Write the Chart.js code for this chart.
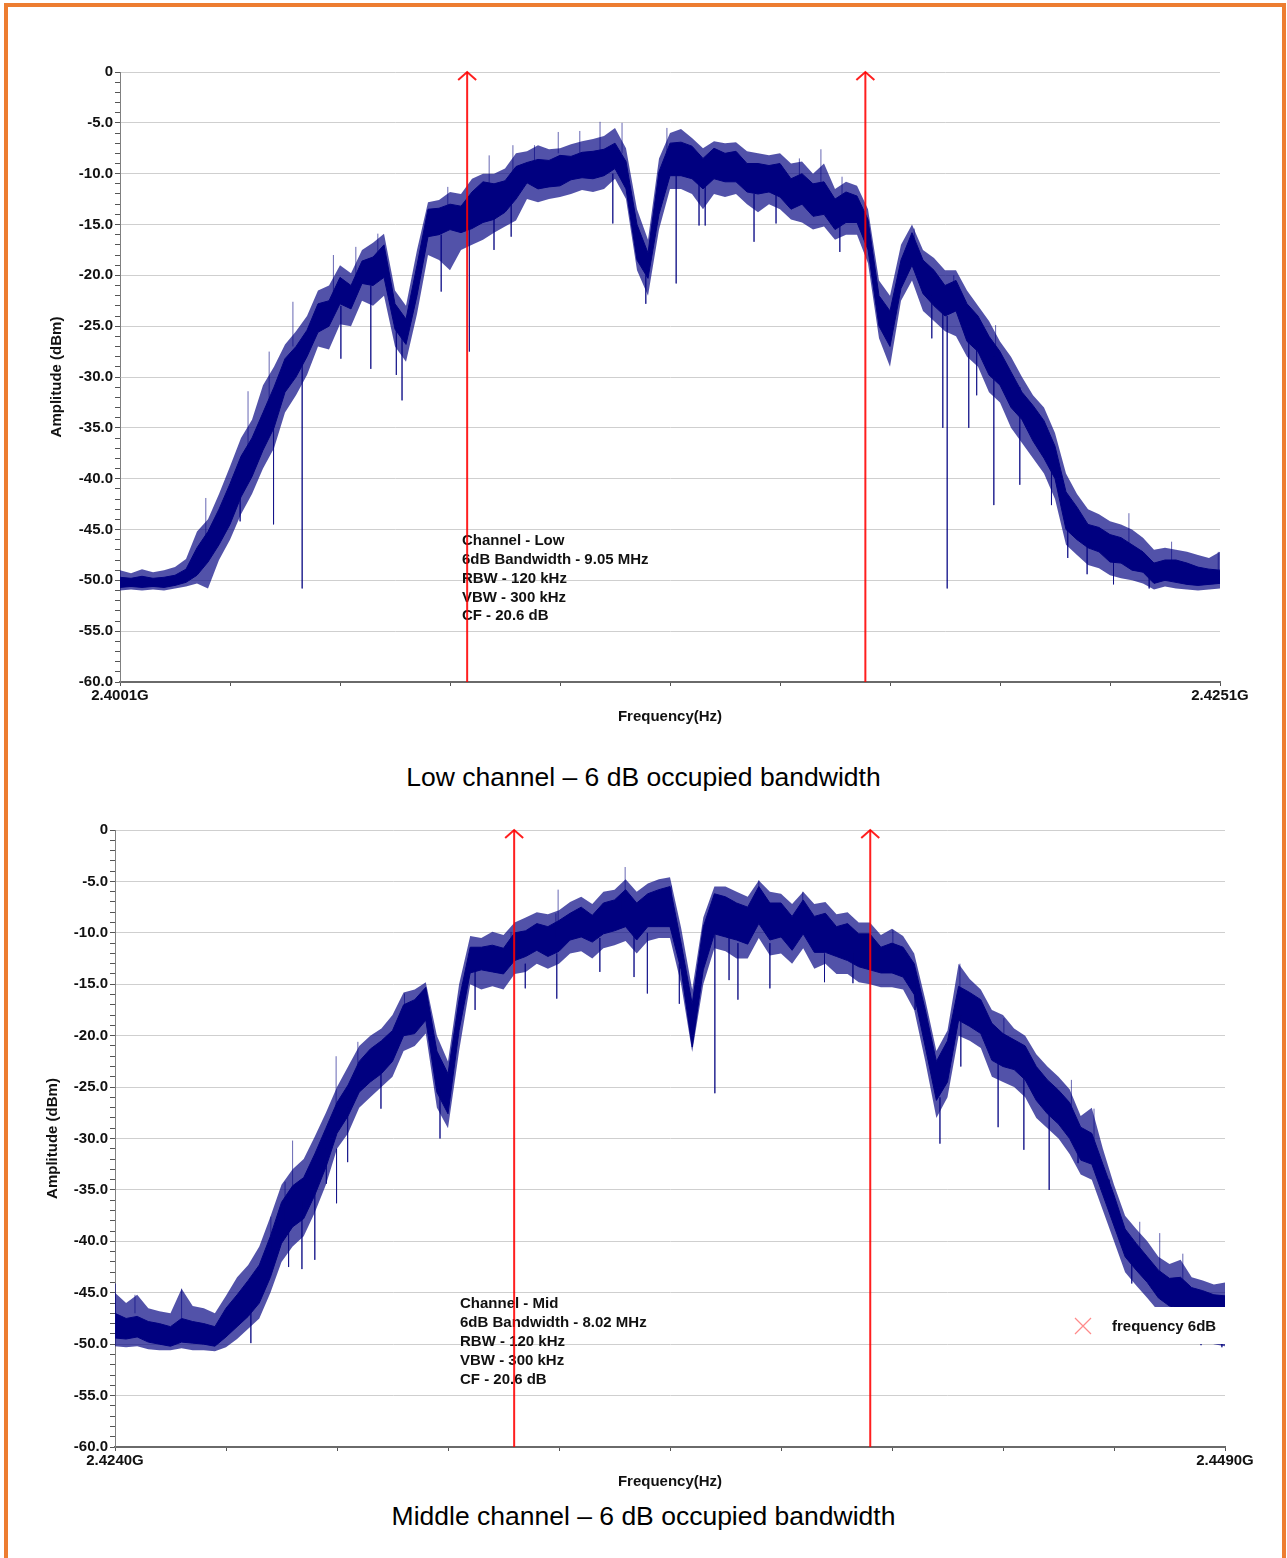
<!DOCTYPE html>
<html>
<head>
<meta charset="utf-8">
<title>6 dB occupied bandwidth</title>
<script src="https://cdn.jsdelivr.net/npm/chart.js@4.4.1/dist/chart.umd.min.js"></script>
<style>
  html, body { margin: 0; padding: 0; background: #fff; }
  body { width: 1287px; height: 1558px; position: relative; overflow: hidden; font-family: "Liberation Sans", Arial, sans-serif; }
  .frame { position: absolute; left: 4px; top: 3px; width: 1274px; height: 1600px; border: 4px solid #ed7d31; border-bottom: none; }
  canvas { position: absolute; left: 0; }
  #chart1 { top: 0; }
  #chart2 { top: 760px; }
  .caption { position: absolute; left: 0; width: 1287px; text-align: center; font-size: 26.5px; line-height: 30px; color: #000; }
</style>
</head>
<body>
<div class="frame"></div>
<canvas id="chart1" width="1287" height="740"></canvas>
<div class="caption" style="top:762px">Low channel – 6 dB occupied bandwidth</div>
<canvas id="chart2" width="1287" height="740"></canvas>
<div class="caption" style="top:1501px">Middle channel – 6 dB occupied bandwidth</div>
<script>
const BIN = 0.25; // MHz between trace bins

// ---- low channel, 2.4001 - 2.4251 GHz ----
const lowStart = 2400.1, lowEnd = 2425.1;
// solid part of the trace (upper / lower edge), dBm per bin
const lowTop = [-49.7,-49.8,-49.6,-49.8,-49.7,-49.5,-48.9,-46.8,-45.2,-43.0,
  -40.5,-37.8,-36.0,-33.5,-31.0,-28.2,-27.0,-25.4,-22.8,-22.5,
  -20.2,-21.0,-18.6,-18.2,-17.0,-22.8,-24.3,-19.0,-13.5,-13.4,
  -13.0,-13.2,-11.8,-10.8,-11.0,-10.7,-9.3,-8.9,-8.6,-8.7,
  -8.2,-8.3,-7.9,-7.8,-7.6,-7.0,-8.8,-15.0,-17.8,-9.8,
  -7.0,-6.9,-7.3,-8.5,-7.5,-8.0,-7.8,-9.0,-9.0,-9.2,
  -9.0,-10.5,-10.0,-11.0,-10.8,-12.5,-11.8,-12.2,-14.5,-22.0,
  -23.5,-18.5,-15.8,-18.5,-19.5,-21.0,-20.5,-22.8,-24.0,-26.0,
  -27.5,-29.5,-31.5,-32.8,-34.3,-36.8,-41.3,-42.8,-44.5,-44.8,
  -45.5,-45.8,-46.5,-47.2,-48.3,-48.0,-48.0,-48.3,-48.7,-48.9,
  -49.0];
const lowBottom = [-50.7,-50.6,-50.7,-50.6,-50.7,-50.5,-50.2,-49.5,-48.2,-46.5,
  -44.5,-41.8,-39.8,-37.2,-35.0,-31.5,-30.0,-28.0,-25.6,-25.0,
  -22.8,-23.3,-20.8,-21.0,-20.2,-25.3,-26.8,-22.0,-16.2,-16.0,
  -15.5,-15.8,-15.4,-14.8,-14.5,-13.8,-12.5,-10.9,-11.5,-11.3,
  -11.2,-10.6,-10.4,-10.5,-10.2,-9.5,-11.5,-18.5,-20.3,-14.0,
  -10.2,-10.2,-10.5,-11.5,-10.5,-10.8,-10.8,-11.8,-12.0,-11.8,
  -12.3,-13.5,-13.0,-14.2,-14.0,-15.5,-14.8,-14.8,-17.5,-25.0,
  -27.0,-21.3,-19.0,-21.8,-23.0,-24.0,-23.5,-26.5,-27.5,-29.8,
  -30.8,-33.0,-34.2,-36.3,-38.0,-40.0,-45.0,-46.0,-46.8,-47.2,
  -48.2,-48.3,-49.0,-49.2,-50.3,-50.0,-50.2,-50.4,-50.5,-50.4,
  -50.3];
// noise extremes per bin
const lowPeak = [-49.0,-49.3,-48.9,-49.2,-49.0,-48.7,-47.9,-45.2,-44.0,-41.5,
  -38.8,-36.0,-34.2,-30.8,-29.0,-26.8,-25.5,-24.0,-21.5,-21.0,
  -19.0,-19.8,-17.5,-16.8,-15.9,-21.5,-23.0,-17.5,-12.8,-12.6,
  -11.8,-12.0,-10.5,-10.0,-10.0,-9.5,-8.0,-7.8,-7.2,-7.6,
  -7.5,-7.1,-6.8,-6.6,-6.3,-5.5,-7.5,-13.5,-16.5,-8.5,
  -6.0,-5.6,-6.5,-7.5,-6.8,-7.0,-6.9,-7.8,-8.0,-8.2,
  -8.0,-9.0,-8.8,-10.0,-9.0,-11.5,-10.8,-11.2,-13.5,-20.5,
  -22.0,-17.0,-15.0,-17.5,-18.3,-19.5,-19.5,-21.5,-23.0,-24.5,
  -26.5,-28.0,-30.0,-31.8,-33.0,-35.5,-39.5,-41.5,-43.0,-43.5,
  -44.2,-44.5,-45.0,-45.8,-47.0,-46.8,-47.0,-47.2,-47.5,-47.8,
  -47.2];
const lowDip = [-51.0,-50.9,-51.0,-50.9,-51.0,-50.8,-50.6,-50.3,-50.8,-48.0,
  -46.0,-43.5,-41.5,-39.0,-37.0,-33.5,-31.8,-29.8,-27.0,-27.3,
  -24.8,-25.0,-22.5,-23.0,-22.0,-27.0,-28.5,-23.8,-18.0,-18.5,
  -19.5,-17.5,-17.0,-16.5,-15.8,-15.2,-14.6,-12.5,-12.8,-12.5,
  -12.3,-12.0,-11.6,-11.8,-11.5,-10.5,-12.5,-19.5,-22.0,-15.5,
  -11.5,-11.5,-12.0,-13.5,-12.0,-12.3,-12.0,-13.0,-13.8,-13.0,
  -13.5,-14.5,-14.8,-15.5,-15.2,-16.5,-16.0,-16.0,-18.8,-26.2,
  -29.0,-22.5,-20.5,-23.5,-24.5,-25.5,-26.0,-28.0,-29.0,-31.5,
  -32.5,-35.0,-36.5,-38.0,-39.5,-42.0,-46.5,-47.5,-48.5,-48.8,
  -49.5,-49.8,-50.0,-50.3,-50.9,-50.6,-50.8,-50.9,-51.0,-50.9,
  -50.8];
// single spurs: [MHz, from dBm, to dBm]
const lowSpikes = [[2402.05,-46,-41.9],[2402.83,-40,-44.2],[2403.01,-38,-31.4],
  [2403.49,-33,-27.5],[2403.59,-35,-44.5],[2404.03,-27,-22.6],[2404.24,-28,-50.8],
  [2404.95,-22,-18.0],[2405.12,-23,-28.2],[2405.46,-20,-17.2],[2405.80,-21,-29.2],
  [2405.96,-18,-15.9],[2406.38,-25,-29.8],[2406.51,-26,-32.3],[2407.40,-16,-21.6],
  [2407.55,-14,-11.3],[2408.04,-15,-27.5],[2408.49,-11,-8.2],[2408.60,-14,-17.5],
  [2408.99,-12,-16.2],[2409.03,-10,-7.2],[2409.52,-10,-7.2],[2410.06,-8,-5.9],
  [2410.55,-8,-5.8],[2411.01,-8,-4.9],[2411.30,-10,-14.9],[2411.51,-8,-5.0],
  [2412.05,-20,-22.8],[2412.53,-8,-5.5],[2412.74,-10,-20.8],[2413.26,-11,-15.1],
  [2413.40,-11,-15.1],[2414.51,-12,-16.7],[2415.01,-12,-14.9],[2415.54,-11,-8.5],
  [2416.03,-11,-7.6],[2416.46,-14,-17.7],[2416.51,-12.5,-10.3],[2418.15,-17,-15.4],
  [2418.55,-22,-26.2],[2418.80,-23,-35.0],[2418.90,-24,-50.8],[2419.05,-22,-20.0],
  [2419.39,-25,-35.0],[2419.57,-26,-31.8],[2419.96,-28,-42.6],[2420.00,-27,-24.9],
  [2420.55,-31,-40.6],[2421.27,-37,-42.6],[2421.64,-44,-47.8],[2422.08,-46,-49.4],
  [2422.68,-48,-50.4],[2423.03,-47,-43.4],[2423.49,-49,-50.8],[2424.00,-48,-46.2],
  [2425.06,-49,-47.2]];
const lowMarkerStart = 2407.99;
const lowBandwidth = 9.05;

// ---- middle channel, 2.4240 - 2.4490 GHz ----
const midStart = 2424.0, midEnd = 2449.0;
const midTop = [-47.0,-47.5,-47.3,-47.8,-48.0,-48.3,-47.5,-47.8,-48.0,-48.3,
  -46.5,-45.2,-43.8,-42.3,-39.5,-36.2,-34.6,-33.8,-31.5,-29.0,
  -26.5,-24.8,-22.5,-21.3,-20.5,-19.5,-17.0,-16.5,-15.3,-21.5,
  -23.7,-16.5,-11.4,-11.4,-11.2,-11.5,-10.0,-9.8,-9.1,-9.4,
  -8.8,-8.1,-7.5,-8.3,-7.1,-6.8,-5.8,-7.1,-6.2,-5.8,
  -5.5,-11.0,-16.9,-9.4,-6.2,-6.5,-7.1,-7.5,-5.5,-7.1,
  -7.1,-8.4,-6.8,-8.4,-8.1,-9.4,-9.1,-10.1,-10.1,-11.4,
  -11.0,-11.4,-13.0,-17.5,-22.5,-20.5,-15.2,-15.8,-16.5,-18.8,
  -19.8,-20.4,-21.0,-23.0,-24.3,-25.3,-26.5,-28.9,-29.5,-32.5,
  -35.5,-38.8,-40.2,-41.5,-42.8,-43.6,-43.5,-44.5,-44.8,-45.2,
  -45.3];
const midBottom = [-49.4,-49.5,-49.3,-49.8,-50.0,-50.2,-49.8,-49.9,-50.0,-50.2,
  -49.3,-48.3,-47.3,-46.0,-43.5,-40.2,-38.6,-37.8,-35.5,-32.8,
  -29.5,-27.8,-25.5,-24.5,-23.7,-22.5,-20.0,-19.8,-18.5,-25.5,
  -27.6,-19.5,-13.9,-13.6,-13.8,-14.0,-12.7,-12.3,-11.7,-12.3,
  -11.8,-10.7,-10.4,-10.9,-10.1,-9.8,-9.4,-10.7,-9.4,-9.4,
  -9.4,-13.6,-21.1,-13.6,-10.1,-10.4,-10.7,-11.1,-9.1,-10.7,
  -10.4,-11.7,-10.1,-11.9,-11.9,-12.3,-12.7,-13.3,-13.6,-13.9,
  -13.9,-14.3,-16.0,-21.1,-26.3,-24.5,-18.5,-19.1,-19.8,-22.4,
  -23.0,-23.3,-24.3,-26.3,-27.6,-28.6,-30.0,-32.1,-32.5,-35.5,
  -38.5,-41.5,-42.8,-44.0,-45.5,-46.3,-46.5,-47.0,-47.5,-47.8,
  -48.0];
const midPeak = [-45.0,-46.0,-45.2,-46.5,-46.8,-47.0,-44.6,-46.3,-46.5,-47.0,
  -45.3,-43.5,-42.3,-40.5,-37.6,-34.5,-33.0,-32.0,-29.8,-27.5,
  -25.0,-23.0,-21.0,-20.0,-19.3,-18.0,-15.8,-15.5,-14.8,-20.0,
  -22.5,-15.0,-10.3,-10.5,-9.9,-10.2,-9.0,-8.5,-8.0,-8.2,
  -7.8,-7.0,-6.5,-7.2,-6.0,-5.8,-4.8,-6.0,-5.2,-4.8,
  -4.6,-9.5,-15.5,-8.5,-5.5,-5.5,-6.0,-6.5,-4.9,-6.0,
  -6.2,-7.2,-6.0,-7.2,-7.0,-8.2,-8.0,-9.0,-9.0,-10.2,
  -9.6,-10.3,-12.0,-16.5,-21.5,-19.5,-13.0,-14.5,-15.5,-17.5,
  -18.0,-19.3,-20.0,-21.8,-23.0,-24.0,-25.2,-27.8,-27.0,-31.0,
  -34.5,-37.5,-38.8,-40.0,-41.5,-42.2,-41.8,-43.5,-43.8,-44.2,
  -44.0];
const midDip = [-50.2,-50.3,-50.2,-50.5,-50.6,-50.6,-50.4,-50.6,-50.6,-50.7,
  -50.3,-49.5,-48.5,-47.5,-45.0,-42.0,-40.5,-39.5,-37.2,-34.5,
  -31.0,-29.5,-27.0,-26.0,-25.0,-24.0,-21.5,-21.0,-19.8,-27.0,
  -29.0,-21.5,-15.0,-15.5,-15.2,-15.5,-14.0,-13.8,-13.0,-13.5,
  -13.0,-12.0,-11.8,-12.5,-11.5,-11.2,-10.8,-12.0,-10.8,-10.5,
  -10.5,-15.0,-21.6,-15.0,-11.5,-11.8,-12.5,-12.5,-10.5,-12.2,
  -12.0,-13.0,-11.5,-13.5,-13.0,-14.0,-14.0,-14.8,-15.0,-15.3,
  -15.3,-15.5,-17.5,-22.5,-28.0,-26.0,-20.0,-20.5,-21.2,-24.0,
  -24.5,-25.0,-26.0,-28.0,-29.0,-30.0,-31.5,-33.5,-34.0,-37.0,
  -40.0,-43.0,-44.3,-45.5,-46.8,-47.5,-47.8,-48.5,-49.5,-50.0,
  -50.2];
const midSpikes = [[2424.01,-47,-44.1],[2424.45,-47,-45.2],[2425.50,-47.5,-44.6],
  [2427.06,-46,-49.9],[2427.51,-41,-37.6],[2427.83,-38,-34.2],[2427.91,-37.5,-42.5],
  [2428.00,-35,-30.2],[2428.21,-36,-42.7],[2428.50,-35,-41.8],[2428.76,-31,-34.4],
  [2428.98,-28.5,-22.0],[2428.99,-31,-36.3],[2429.24,-27,-32.3],[2429.47,-24,-20.6],
  [2429.99,-23,-27.1],[2430.52,-18.5,-15.9],[2431.32,-25,-30.0],[2432.11,-13.5,-17.5],
  [2432.92,-12,-9.9],[2433.24,-13,-15.4],[2433.93,-10.5,-8.1],[2433.95,-12,-16.4],
  [2433.98,-9,-5.8],[2434.92,-10.5,-13.8],[2435.42,-8,-6.2],[2435.49,-7,-3.6],
  [2435.69,-10,-14.3],[2435.99,-10,-15.9],[2436.53,-8,-5.4],[2436.71,-13,-16.9],
  [2437.51,-10,-25.6],[2437.83,-10,-14.6],[2438.03,-11,-16.5],[2438.50,-7,-4.9],
  [2438.75,-11,-15.4],[2439.49,-8.5,-6.0],[2439.98,-12,-14.8],[2440.62,-12,-14.9],
  [2441.52,-12,-9.7],[2442.02,-14.5,-17.5],[2442.58,-26,-30.5],[2443.03,-16,-13.0],
  [2443.05,-18,-23.0],[2443.89,-22,-28.9],[2444.02,-20.5,-18.3],[2444.47,-24,-31.1],
  [2445.04,-27,-35.0],[2445.54,-28,-24.3],[2445.69,-29,-32.4],[2446.05,-31,-27.1],
  [2446.39,-34,-37.0],[2446.90,-40.5,-44.1],[2447.08,-41,-38.1],[2447.53,-43,-39.2],
  [2448.05,-44,-41.2],[2448.46,-47,-50.1],[2448.93,-47,-50.3]];
const midMarkerStart = 2432.99;
const midBandwidth = 8.02;

const yMin = -60, yMax = 0;
const xTickStep = 2.5; // MHz

const NAVY = '#000080';
const HAZE = 'rgba(0,0,128,0.68)';
const MARKER_RED = 'rgba(255,0,0,0.88)';
const FONT = '"Liberation Sans", Arial, Helvetica, sans-serif';

Chart.defaults.font.family = FONT;
Chart.defaults.color = '#111';

function noteLines(name, bw) {
  return ['Channel - ' + name, '6dB Bandwidth - ' + bw.toFixed(2) + ' MHz',
    'RBW - 120 kHz', 'VBW - 300 kHz', 'CF - 20.6 dB'];
}

// annotation block, arrow heads, legend
function extrasFor(cfg) {
  return {
    id: 'extras',
    beforeDatasetsDraw(chart) {
      const ctx = chart.ctx, xs = chart.scales.x, ys = chart.scales.y;
      ctx.save();
      ctx.font = 'bold 15px ' + FONT;
      ctx.fillStyle = '#111';
      ctx.textBaseline = 'middle';
      const nx = xs.getPixelForValue(cfg.noteAt[0]);
      const ny = ys.getPixelForValue(cfg.noteAt[1]);
      cfg.notes.forEach(function(line, i) { ctx.fillText(line, nx, ny + i * 18.9); });
      ctx.restore();
    },
    afterDatasetsDraw(chart) {
      const ctx = chart.ctx, xs = chart.scales.x, ys = chart.scales.y, area = chart.chartArea;
      ctx.save();
      ctx.strokeStyle = MARKER_RED;
      ctx.lineWidth = 2;
      cfg.markers.forEach(function(f) {
        const px = xs.getPixelForValue(f), py = ys.getPixelForValue(yMax);
        ctx.beginPath();
        ctx.moveTo(px - 9, py + 8);
        ctx.lineTo(px, py);
        ctx.lineTo(px + 9, py + 8);
        ctx.stroke();
      });
      if (cfg.legend) {
        const r = area.right, t = area.bottom - 140;
        ctx.fillStyle = '#fff';
        ctx.fillRect(r - 164, t, 164, 37);
        const cx = r - 142, cy = t + 19;
        ctx.strokeStyle = 'rgba(255,60,60,0.6)';
        ctx.lineWidth = 1.2;
        ctx.beginPath();
        ctx.moveTo(cx - 8, cy - 8); ctx.lineTo(cx + 8, cy + 8);
        ctx.moveTo(cx + 8, cy - 8); ctx.lineTo(cx - 8, cy + 8);
        ctx.stroke();
        ctx.fillStyle = '#111';
        ctx.font = 'bold 15px ' + FONT;
        ctx.textBaseline = 'middle';
        ctx.fillText(chart.data.datasets[0].label, r - 113, cy + 1);
      }
      ctx.restore();
    }
  };
}

function buildChart(id, cfg) {
  const binX = function(i) { return cfg.start + i * BIN; };
  const pts = function(arr) { return arr.map(function(v, i) { return {x: binX(i), y: v}; }); };
  const spikes = [];
  cfg.spikes.forEach(function(s) {
    spikes.push({x: s[0], y: s[1]}, {x: s[0], y: s[2]}, {x: s[0], y: null});
  });
  const markerPts = [];
  cfg.markers.forEach(function(f) {
    markerPts.push({x: f, y: yMin}, {x: f, y: yMax}, {x: f, y: null});
  });

  return new Chart(document.getElementById(id), {
    type: 'line',
    data: {
      datasets: [
        {label: 'frequency 6dB', data: markerPts, borderColor: MARKER_RED, borderWidth: 2, order: 0},
        {label: 'spurs', data: spikes, borderColor: 'rgba(0,0,128,0.6)', borderWidth: 1, order: 1},
        {label: 'trace', data: pts(cfg.top), borderColor: NAVY, borderWidth: 1, backgroundColor: NAVY, fill: '+1', order: 2},
        {label: 'trace low', data: pts(cfg.bottom), borderColor: NAVY, borderWidth: 1, order: 3},
        {label: 'noise max', data: pts(cfg.peak), borderColor: 'rgba(0,0,0,0)', borderWidth: 0,
         backgroundColor: HAZE, fill: '+1', order: 4},
        {label: 'noise min', data: pts(cfg.dip), borderColor: 'rgba(0,0,0,0)', borderWidth: 0, order: 5}
      ]
    },
    options: {
      responsive: false,
      animation: false,
      events: [],
      layout: {padding: cfg.padding},
      elements: {point: {radius: 0}, line: {tension: 0}},
      plugins: {legend: {display: false}, tooltip: {enabled: false}},
      scales: {
        x: {
          type: 'linear',
          min: cfg.start,
          max: cfg.end,
          afterBuildTicks: function(scale) {
            const t = [];
            for (let v = cfg.start; v <= cfg.end + 1e-6; v += xTickStep) t.push({value: Math.round(v * 1e4) / 1e4});
            scale.ticks = t;
          },
          afterFit: function(scale) { scale.height = cfg.xAxisHeight; },
          ticks: {
            autoSkip: false,
            maxRotation: 0,
            padding: 1,
            font: {size: 15, weight: 'bold'},
            color: '#111',
            callback: function(v, i, ticks) {
              return (i === 0 || i === ticks.length - 1) ? (v / 1000).toFixed(4) + 'G' : '';
            }
          },
          grid: {drawOnChartArea: false, tickLength: 4, tickColor: '#555'},
          border: {color: '#6a6a6a', width: 2},
          title: {display: true, text: 'Frequency(Hz)', font: {size: 15, weight: 'bold'}, color: '#111',
                  padding: {top: 0, bottom: cfg.xTitlePad}}
        },
        y: {
          min: yMin,
          max: yMax,
          afterBuildTicks: function(scale) {
            const t = [];
            for (let v = yMin; v <= yMax; v++) t.push({value: v});
            scale.ticks = t;
          },
          afterFit: function(scale) { scale.width = cfg.yAxisWidth; },
          ticks: {
            autoSkip: false,
            padding: 2,
            font: {size: 15, weight: 'bold'},
            color: '#111',
            callback: function(v) { return v % 5 ? '' : (v === 0 ? '0' : v.toFixed(1)); }
          },
          grid: {
            color: function(c) { return c.tick && c.tick.value % 5 === 0 ? '#cfcfcf' : 'rgba(0,0,0,0)'; },
            tickColor: '#555',
            tickLength: 5
          },
          border: {color: '#808080', width: 1},
          title: {display: true, text: 'Amplitude (dBm)', font: {size: 15, weight: 'bold'}, color: '#111',
                  padding: {top: 0, bottom: 0}}
        }
      }
    },
    plugins: [extrasFor(cfg)]
  });
}

buildChart('chart1', {
  start: lowStart, end: lowEnd,
  top: lowTop, bottom: lowBottom, peak: lowPeak, dip: lowDip, spikes: lowSpikes,
  markers: [lowMarkerStart, lowMarkerStart + lowBandwidth],
  notes: noteLines('Low', lowBandwidth), noteAt: [2407.87, -46.1],
  legend: false,
  padding: {top: 72, right: 67, bottom: 0, left: 48},
  yAxisWidth: 72, xAxisHeight: 58, xTitlePad: 14
});

buildChart('chart2', {
  start: midStart, end: midEnd,
  top: midTop, bottom: midBottom, peak: midPeak, dip: midDip, spikes: midSpikes,
  markers: [midMarkerStart, midMarkerStart + midBandwidth],
  notes: noteLines('Mid', midBandwidth), noteAt: [2431.77, -46.1],
  legend: true,
  padding: {top: 70, right: 62, bottom: 0, left: 44},
  yAxisWidth: 71, xAxisHeight: 53, xTitlePad: 9
});
</script>
</body>
</html>
